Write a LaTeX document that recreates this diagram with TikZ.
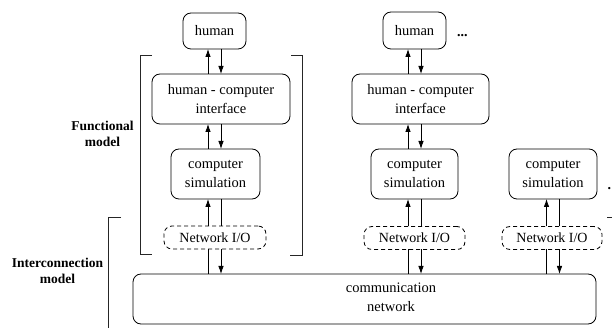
\documentclass[tikz,border=0pt]{standalone}
\usepackage{fontspec}
\setmainfont{Liberation Serif}
\usetikzlibrary{arrows.meta}
\begin{document}
\begin{tikzpicture}[x=1pt,y=-1pt,
  every node/.style={inner sep=0pt,outer sep=0pt},
  box/.style={draw,line width=0.8pt,rounded corners=8pt,align=center,font=\fontsize{14.5}{19}\selectfont},
  iobox/.style={draw,line width=0.8pt,rounded corners=8pt,dash pattern=on 4pt off 3pt,font=\fontsize{14}{17}\selectfont},
  lbl/.style={align=center,font=\fontsize{13.5}{16.5}\selectfont\bfseries},
  arr/.style={line width=0.8pt,-{Latex[length=8pt,width=5.5pt]}},
  ln/.style={line width=0.8pt},
  brk/.style={line width=0.9pt,black!85}]
\useasboundingbox (0,0) rectangle (612,328);
% column 1
\node[box,minimum width=63pt,minimum height=36pt] (human1) at (214.5,31) {human};
\node[box,minimum width=138pt,minimum height=50pt] (hci1) at (221,99) {human - computer\\interface};
\node[box,minimum width=89pt,minimum height=50pt] (sim1) at (215.5,174) {computer\\simulation};
\node[iobox,minimum width=102pt,minimum height=23pt] (io1) at (215,237.5) {Network I/O};
% column 2
\node[box,minimum width=63pt,minimum height=37pt] (human2) at (414.5,30.5) {human};
\node[box,minimum width=137pt,minimum height=50pt] (hci2) at (420.5,99) {human - computer\\interface};
\node[box,minimum width=87pt,minimum height=50pt] (sim2) at (414.5,174) {computer\\simulation};
\node[iobox,minimum width=101pt,minimum height=23pt] (io2) at (414.5,238) {Network I/O};
% column 3
\node[box,minimum width=88pt,minimum height=50pt] (sim3) at (553,174) {computer\\simulation};
\node[iobox,minimum width=100pt,minimum height=23pt] (io3) at (552,238) {Network I/O};
% network
\node[box,minimum width=463pt,minimum height=50pt] (net) at (364.5,299) {};
\node[align=center,font=\fontsize{14.5}{19}\selectfont] (nettext) at (391,297.5) {communication\\network};
% dots
\node[font=\fontsize{14}{17}\selectfont\bfseries,anchor=base west] (dots1) at (457,36.5) {...};
\node[font=\fontsize{14}{17}\selectfont\bfseries,anchor=base west] (dots2) at (607.5,189.5) {.};
% labels
\node[lbl] (funlbl) at (102.5,134) {Functional\\model};
\node[lbl] (intlbl) at (57.5,271) {Interconnection\\model};
% brackets
\coordinate (f1a) at (152,55.5);
\coordinate (f1b) at (140,55.5);
\coordinate (f1c) at (140,254.5);
\coordinate (f1d) at (152,254.5);
\draw[brk] (f1a) -- (f1b) -- (f1c) -- (f1d);
\coordinate (f2a) at (291,55.5);
\coordinate (f2b) at (302,55.5);
\coordinate (f2c) at (302,255);
\coordinate (f2d) at (290,255);
\draw[brk] (f2a) -- (f2b) -- (f2c) -- (f2d);
\coordinate (i1a) at (121,217.5);
\coordinate (i1b) at (108.5,217.5);
\coordinate (i1c) at (108.5,340);
\draw[brk] (i1a) -- (i1b) -- (i1c);
\coordinate (i2a) at (607,217);
\coordinate (i2b) at (620,217);
\draw[brk] (i2a) -- (i2b);
% arrows column 1
\draw[arr] ([xshift=-6.5pt]human1.south |- hci1.north) -- ([xshift=-6.5pt]human1.south);
\draw[arr] ([xshift=6.5pt]human1.south) -- ([xshift=6.5pt]human1.south |- hci1.north);
\draw[arr] ([xshift=-6.5pt]human1.south |- sim1.north) -- ([xshift=-6.5pt]human1.south |- hci1.south);
\draw[arr] ([xshift=6.5pt]human1.south |- hci1.south) -- ([xshift=6.5pt]human1.south |- sim1.north);
\draw[arr] ([xshift=-6.5pt]human1.south |- io1.north) -- ([xshift=-6.5pt]human1.south |- sim1.south);
\draw[ln] ([xshift=6.5pt]human1.south |- sim1.south) -- ([xshift=6.5pt]human1.south |- io1.north);
\draw[ln] ([xshift=-6.5pt]human1.south |- net.north) -- ([xshift=-6.5pt]human1.south |- io1.south);
\draw[arr] ([xshift=6.5pt]human1.south |- io1.south) -- ([xshift=6.5pt]human1.south |- net.north);
% arrows column 2
\draw[arr] ([xshift=-6.5pt]human2.south |- hci2.north) -- ([xshift=-6.5pt]human2.south);
\draw[arr] ([xshift=6.5pt]human2.south) -- ([xshift=6.5pt]human2.south |- hci2.north);
\draw[arr] ([xshift=-6.5pt]human2.south |- sim2.north) -- ([xshift=-6.5pt]human2.south |- hci2.south);
\draw[arr] ([xshift=6.5pt]human2.south |- hci2.south) -- ([xshift=6.5pt]human2.south |- sim2.north);
\draw[arr] ([xshift=-6.5pt]human2.south |- io2.north) -- ([xshift=-6.5pt]human2.south |- sim2.south);
\draw[ln] ([xshift=6.5pt]human2.south |- sim2.south) -- ([xshift=6.5pt]human2.south |- io2.north);
\draw[ln] ([xshift=-6.5pt]human2.south |- net.north) -- ([xshift=-6.5pt]human2.south |- io2.south);
\draw[arr] ([xshift=6.5pt]human2.south |- io2.south) -- ([xshift=6.5pt]human2.south |- net.north);
% arrows column 3
\draw[arr] ([xshift=-6.5pt]sim3.south |- io3.north) -- ([xshift=-6.5pt]sim3.south);
\draw[ln] ([xshift=6.5pt]sim3.south) -- ([xshift=6.5pt]sim3.south |- io3.north);
\draw[ln] ([xshift=-6.5pt]sim3.south |- net.north) -- ([xshift=-6.5pt]sim3.south |- io3.south);
\draw[arr] ([xshift=6.5pt]sim3.south |- io3.south) -- ([xshift=6.5pt]sim3.south |- net.north);
\end{tikzpicture}
\end{document}
